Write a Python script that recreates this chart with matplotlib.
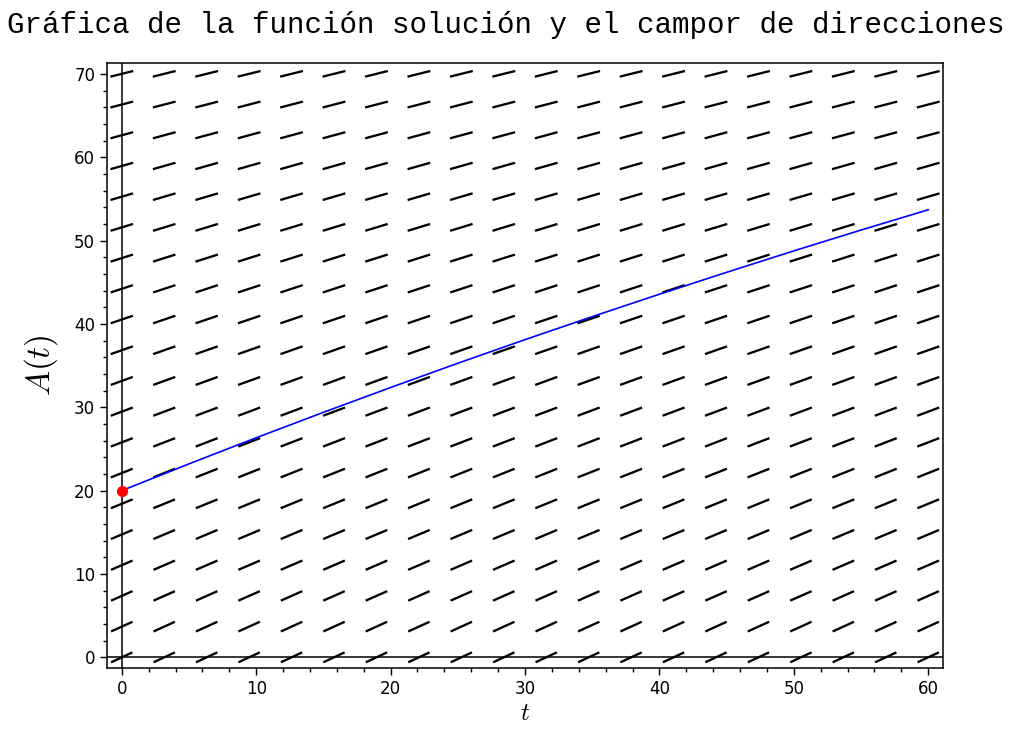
import numpy as np
import matplotlib
matplotlib.use('Agg')
import matplotlib.pyplot as plt
from matplotlib.ticker import MultipleLocator

plt.rcParams['mathtext.fontset'] = 'cm'

# Slope field grid (20 x 20), slope dA/dt read per row of A
t_grid = np.linspace(0, 60, 20)
a_grid = np.linspace(0, 70, 20)
row_slopes = [0.750, 0.732, 0.713, 0.695, 0.676, 0.658, 0.639, 0.621, 0.603, 0.584,
              0.566, 0.547, 0.529, 0.511, 0.492, 0.474, 0.455, 0.437, 0.418, 0.400]

# Solution curve A(t)
t_sol = [0, 5, 10, 15, 20, 25, 30, 35, 40, 45, 50, 55, 60]
a_sol = [20.00, 23.21, 26.34, 29.39, 32.37, 35.28, 38.11, 40.87, 43.56, 46.19, 48.76, 51.26, 53.69]

# Initial condition
t0, a0 = 0, 20

title = 'Gráfica de la función solución y el campor de direcciones'

fig = plt.figure(figsize=(10.19, 7.31), dpi=100)
ax = fig.add_axes([107/1019, 1 - 668/731, (943 - 107)/1019, (668 - 63)/731])

T, A = np.meshgrid(t_grid, a_grid)
S = np.repeat(np.array(row_slopes)[:, None], len(t_grid), axis=1)
norm = np.sqrt(1 + S**2)
U, V = 1 / norm, S / norm
ax.quiver(T, A, U, V, angles='xy', scale_units='dots', scale=1/23.5, units='dots',
          width=2.3, headlength=0, headaxislength=0, headwidth=0, pivot='middle',
          color='black', zorder=2)

ax.axhline(0, color='black', lw=1.1, zorder=3)
ax.axvline(0, color='black', lw=1.1, zorder=3)

ax.plot(t_sol, a_sol, color='blue', lw=1.2, zorder=4)
ax.plot([t0], [a0], 'o', color='red', markersize=7, zorder=5)

ax.set_xlim(-1.1, 61.1)
ax.set_ylim(-1.28, 71.3)
ax.xaxis.set_major_locator(MultipleLocator(10))
ax.xaxis.set_minor_locator(MultipleLocator(2))
ax.yaxis.set_major_locator(MultipleLocator(10))
ax.yaxis.set_minor_locator(MultipleLocator(2))
ax.tick_params(which='both', top=False, right=False, direction='out', width=1, labelsize=12)
ax.tick_params(which='major', length=5)
ax.tick_params(which='minor', length=3)
for sp in ax.spines.values():
    sp.set_linewidth(1.1)

ax.set_xlabel('$t$', fontsize=18, labelpad=2)
ax.set_ylabel('$A(t)$', fontsize=24, labelpad=10)

fig.text(7/1019, 1 - 25/731, title, family='Liberation Mono', fontsize=21, va='center', ha='left')

fig.savefig('out.png', dpi=100)
